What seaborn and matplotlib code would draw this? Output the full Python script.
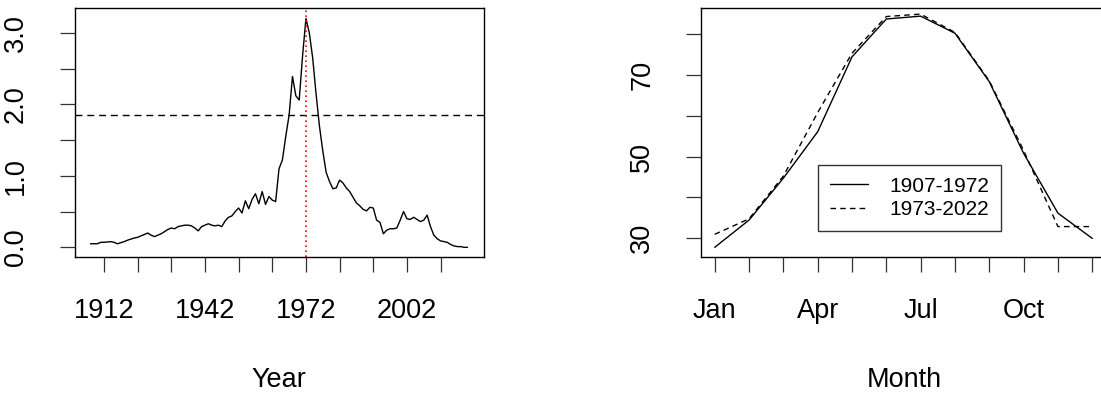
import numpy as np
import pandas as pd
import matplotlib
matplotlib.use("Agg")
import matplotlib.pyplot as plt
import seaborn as sns

# ---- data -------------------------------------------------------------
years = list(range(1908, 2021))
annual = [
    0.05, 0.05, 0.05, 0.07, 0.07, 0.075, 0.08, 0.07, 0.05, 0.065,   # 1908-1917
    0.08, 0.10, 0.115, 0.13, 0.14, 0.16, 0.18, 0.20, 0.17, 0.15,     # 1918-1927
    0.17, 0.19, 0.22, 0.25, 0.27, 0.26, 0.29, 0.30, 0.31, 0.31,     # 1928-1937
    0.30, 0.27, 0.23, 0.29, 0.31, 0.33, 0.31, 0.30, 0.31, 0.29,     # 1938-1947
    0.37, 0.42, 0.44, 0.50, 0.55, 0.48, 0.65, 0.54, 0.67, 0.75,     # 1948-1957
    0.61, 0.78, 0.60, 0.71, 0.66, 0.64, 1.10, 1.22, 1.55, 1.85,     # 1958-1967
    2.39, 2.12, 2.06, 2.68, 3.20, 3.00, 2.65, 2.15, 1.70, 1.35,     # 1968-1977
    1.05, 0.92, 0.82, 0.83, 0.94, 0.90, 0.83, 0.78, 0.70, 0.62,     # 1978-1987
    0.58, 0.53, 0.51, 0.56, 0.55, 0.38, 0.35, 0.19, 0.24, 0.26,     # 1988-1997
    0.26, 0.27, 0.38, 0.50, 0.40, 0.39, 0.42, 0.39, 0.36, 0.38,     # 1998-2007
    0.45, 0.29, 0.17, 0.12, 0.09, 0.08, 0.07, 0.04, 0.02, 0.01,     # 2008-2017
    0.01, 0.00, 0.00,                                               # 2018-2020
]
ref_level = 1.85
split_year = 1972

months = list(range(1, 13))
month_names = ["Jan", "Feb", "Mar", "Apr", "May", "Jun", "Jul",
               "Aug", "Sep", "Oct", "Nov", "Dec"]
month_labels = ["Jan", "Apr", "Jul", "Oct"]
early = [27.7, 34.4, 44.7, 56.1, 74.5, 83.8, 84.5, 80.3, 68.4, 50.8, 36.1, 29.9]
late = [30.9, 34.7, 45.2, 60.8, 75.4, 84.4, 85.0, 80.5, 68.6, 51.5, 32.8, 32.8]
periods = ["1907-1972", "1973-2022"]

# ---- style ------------------------------------------------------------
sns.set_style("white")
plt.rcParams["font.family"] = ["Liberation Sans", "DejaVu Sans"]
plt.rcParams["text.color"] = "black"
plt.rcParams["axes.labelcolor"] = "black"
plt.rcParams["xtick.color"] = "black"
plt.rcParams["ytick.color"] = "black"
plt.rcParams["axes.edgecolor"] = "black"
plt.rcParams["axes.linewidth"] = 1.0

W, H = 1101, 394
fig = plt.figure(figsize=(W / 100, H / 100), dpi=100)

def px_axes(x0, x1, y0, y1):
    return fig.add_axes([x0 / W, 1 - y1 / H, (x1 - x0) / W, (y1 - y0) / H])

ax1 = px_axes(74.7, 484, 8, 256.7)
ax2 = px_axes(701, 1107, 8, 256.7)

tick_fs = 19.5
for ax in (ax1, ax2):
    for s in ax.spines.values():
        s.set_visible(True)
        s.set_color("black")
        s.set_linewidth(1.0)
    ax.tick_params(axis="both", direction="out", length=11, width=0.9,
                   color="#333333", labelcolor="black", labelsize=tick_fs,
                   bottom=True, left=True, top=False, right=False)
    ax.tick_params(axis="x", pad=19)
    ax.tick_params(axis="y", pad=22)

# ---- left: annual series ----------------------------------------------
df1 = pd.DataFrame({"Year": years, "Value": annual})
sns.lineplot(data=df1, x="Year", y="Value", ax=ax1, color="black",
             linewidth=1.0)
ax1.axhline(ref_level, color="black", linewidth=1.0, linestyle=(0, (5, 3.5)))
ax1.axvline(split_year, color="red", linewidth=1.2, linestyle=(0, (1, 2)))
ax1.set_xlim(1903.3, 2024.9)
ax1.set_ylim(-0.131, 3.347)
ax1.set_xticks(np.arange(1912, 2013, 10))
ax1.set_xticklabels([str(y) if y in (1912, 1942, 1972, 2002) else ""
                     for y in range(1912, 2013, 10)])
yt = np.arange(0, 3.01, 0.5)
ax1.set_yticks(yt)
ax1.set_yticklabels([f"{v:.1f}" if abs(v - round(v)) < 1e-9 else "" for v in yt])
ax1.set_ylabel("")
ax1.set_xlabel("Year", fontsize=tick_fs)

# ---- right: monthly profiles ------------------------------------------
df2 = pd.DataFrame({
    "Month": months * 2,
    "Value": early + late,
    "Period": [periods[0]] * 12 + [periods[1]] * 12,
})
sns.lineplot(data=df2, x="Month", y="Value", style="Period", ax=ax2,
             color="black", linewidth=1.0,
             dashes={periods[0]: "", periods[1]: (4, 3)})
ax2.set_xlim(0.6, 12.43)
ax2.set_ylim(25.4, 86.5)
ax2.set_xticks(months)
ax2.set_xticklabels([m if m in month_labels else "" for m in month_names])
ax2.set_yticks(np.arange(30, 81, 10))
ax2.set_yticklabels([str(v) if v in (30, 50, 70) else ""
                     for v in range(30, 81, 10)])
ax2.set_ylabel("")
ax2.set_xlabel("Month", fontsize=tick_fs)

leg = ax2.legend(loc="lower left", bbox_to_anchor=(0.289, 0.105),
                 fontsize=15, frameon=True, fancybox=False, shadow=False,
                 handlelength=1.85, handletextpad=1.0, borderpad=0.55,
                 labelspacing=0.22, borderaxespad=0, title=None)
leg.get_frame().set_edgecolor("black")
leg.get_frame().set_linewidth(1.0)
leg.get_frame().set_boxstyle("square", pad=0)
for t in leg.get_texts():
    t.set_color("black")

for ax in (ax1, ax2):
    for lab in ax.get_yticklabels():
        lab.set_rotation(90)
        lab.set_va("center")
    ax.xaxis.set_label_coords(0.5, -0.496)
    ax.xaxis.label.set_va("center")

fig.savefig("out.png", dpi=100)
